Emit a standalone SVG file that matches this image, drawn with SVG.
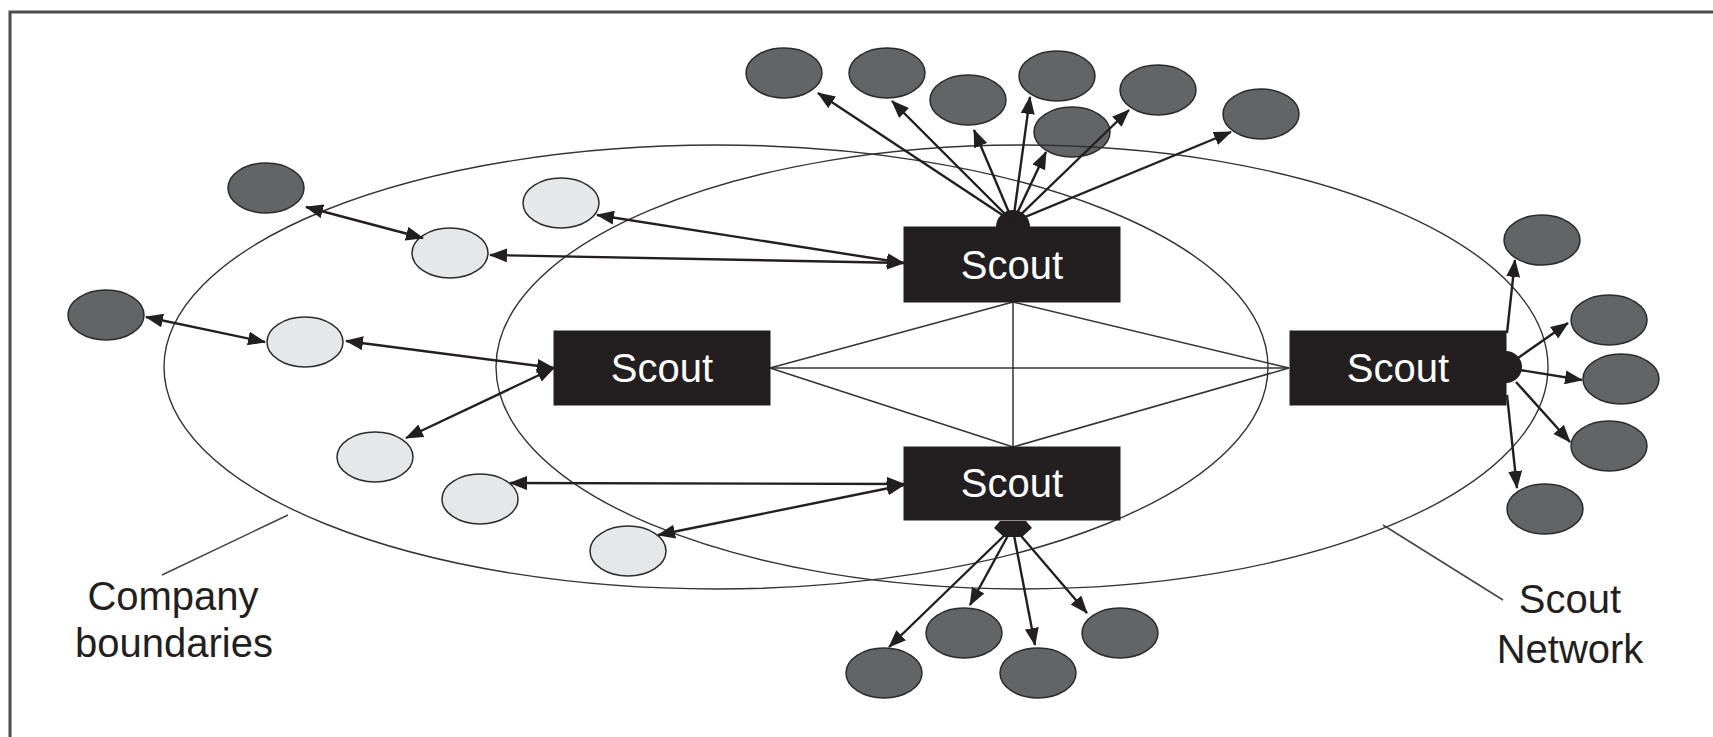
<svg xmlns="http://www.w3.org/2000/svg" width="1713" height="737" viewBox="0 0 1713 737">
<style>
.dark{fill:#636466;stroke:#2b2b2b;stroke-width:1.5}
.light{fill:#e6e7e8;stroke:#2b2b2b;stroke-width:1.5}
.box{fill:#231f20;stroke:#231f20;stroke-width:1}
.bt{font-family:"Liberation Sans",Arial,sans-serif;font-size:40px;fill:#ffffff;text-anchor:middle}
.lbl{font-family:"Liberation Sans",Arial,sans-serif;font-size:40px;fill:#231f20;text-anchor:middle}
.bound{fill:none;stroke:#333;stroke-width:1.4}
.arr{stroke:#231f20;stroke-width:2.4;fill:none;marker-end:url(#ah)}
.bi{marker-start:url(#ah)}
.thin{stroke:#333;stroke-width:1.5;fill:none}
.ptr{stroke:#444;stroke-width:1.5;fill:none}
</style>
<defs>
<marker id="ah" markerUnits="userSpaceOnUse" markerWidth="18" markerHeight="14" refX="17" refY="7" orient="auto-start-reverse">
<path d="M0,0 L18,7 L0,14 z" fill="#231f20"/>
</marker>
</defs>
<rect width="1713" height="737" fill="#ffffff"/>
<path d="M10,737 V12 H1713" fill="none" stroke="#4d4d4d" stroke-width="3"/>

<g id="outer-nodes">
<g id="t1"><ellipse class="dark" cx="784" cy="73" rx="38" ry="25"/></g>
<g id="t2"><ellipse class="dark" cx="887" cy="73" rx="38" ry="25"/></g>
<g id="t3"><ellipse class="dark" cx="968" cy="100" rx="38" ry="25"/></g>
<g id="t4"><ellipse class="dark" cx="1057" cy="76" rx="38" ry="25"/></g>
<g id="t5"><ellipse class="dark" cx="1158" cy="90" rx="38" ry="25"/></g>
<g id="t6"><ellipse class="dark" cx="1261" cy="114" rx="38" ry="25"/></g>
<g id="t7"><ellipse class="dark" cx="1072" cy="132" rx="38" ry="25"/></g>
<g id="d1"><ellipse class="dark" cx="266" cy="188" rx="38" ry="25"/></g>
<g id="d2"><ellipse class="dark" cx="106" cy="315" rx="38" ry="25"/></g>
<g id="l1"><ellipse class="light" cx="561" cy="203" rx="38" ry="25"/></g>
<g id="l2"><ellipse class="light" cx="450" cy="253" rx="38" ry="25"/></g>
<g id="l3"><ellipse class="light" cx="305" cy="342" rx="38" ry="25"/></g>
<g id="l4"><ellipse class="light" cx="375" cy="457" rx="38" ry="25"/></g>
<g id="l5"><ellipse class="light" cx="480" cy="499" rx="38" ry="25"/></g>
<g id="l6"><ellipse class="light" cx="628" cy="551" rx="38" ry="25"/></g>
<g id="r1"><ellipse class="dark" cx="1542" cy="240" rx="38" ry="25"/></g>
<g id="r2"><ellipse class="dark" cx="1609" cy="320" rx="38" ry="25"/></g>
<g id="r3"><ellipse class="dark" cx="1621" cy="379" rx="38" ry="25"/></g>
<g id="r4"><ellipse class="dark" cx="1609" cy="446" rx="38" ry="25"/></g>
<g id="r5"><ellipse class="dark" cx="1545" cy="509" rx="38" ry="25"/></g>
<g id="b1"><ellipse class="dark" cx="884" cy="673" rx="38" ry="25"/></g>
<g id="b2"><ellipse class="dark" cx="964" cy="633" rx="38" ry="25"/></g>
<g id="b3"><ellipse class="dark" cx="1038" cy="673" rx="38" ry="25"/></g>
<g id="b4"><ellipse class="dark" cx="1120" cy="633" rx="38" ry="25"/></g>
</g>

<g id="company-boundaries">
<ellipse class="bound" cx="716" cy="367" rx="552" ry="222"/>
<line class="ptr" x1="288" y1="515" x2="162" y2="575"/>
<text class="lbl" x="173" y="610">Company</text>
<text class="lbl" x="174" y="657">boundaries</text>
</g>
<g id="scout-network">
<ellipse class="bound" cx="1022" cy="367" rx="526" ry="222"/>
<line class="ptr" x1="1383" y1="525" x2="1503" y2="600"/>
<text class="lbl" x="1570" y="613">Scout</text>
<text class="lbl" x="1570" y="663">Network</text>
</g>

<g id="connectors">
<line class="thin" x1="1013" y1="302" x2="1013" y2="447"/>
<line class="thin" x1="770" y1="368" x2="1013" y2="302"/>
<line class="thin" x1="770" y1="368" x2="1013" y2="447"/>
<line class="thin" x1="770" y1="368" x2="1289" y2="368"/>
<line class="thin" x1="1013" y1="302" x2="1289" y2="368"/>
<line class="thin" x1="1013" y1="447" x2="1289" y2="368"/>
<circle cx="1013" cy="227" r="17" fill="#231f20"/>
<line class="arr" x1="1013" y1="222" x2="818" y2="93"/>
<line class="arr" x1="1013" y1="222" x2="892" y2="101"/>
<line class="arr" x1="1013" y1="222" x2="974" y2="130"/>
<line class="arr" x1="1013" y1="222" x2="1030" y2="97"/>
<line class="arr" x1="1013" y1="222" x2="1129" y2="110"/>
<line class="arr" x1="1013" y1="222" x2="1231" y2="132"/>
<line class="arr" x1="1013" y1="222" x2="1046" y2="152"/>
<line class="arr bi" x1="306" y1="207" x2="423" y2="238"/>
<line class="arr bi" x1="146" y1="317" x2="265" y2="342"/>
<line class="arr bi" x1="346" y1="341" x2="554" y2="368"/>
<line class="arr bi" x1="406" y1="438" x2="554" y2="368"/>
<line class="arr bi" x1="597" y1="215" x2="904" y2="263"/>
<line class="arr bi" x1="490" y1="255" x2="904" y2="263"/>
<line class="arr bi" x1="510" y1="483" x2="904" y2="484"/>
<line class="arr bi" x1="658" y1="535" x2="904" y2="485"/>
<circle cx="1506" cy="367" r="16" fill="#231f20"/>
<line class="arr" x1="1507" y1="333" x2="1515" y2="260"/>
<line class="arr" x1="1518" y1="358" x2="1568" y2="323"/>
<line class="arr" x1="1520" y1="370" x2="1582" y2="380"/>
<line class="arr" x1="1516" y1="382" x2="1570" y2="442"/>
<line class="arr" x1="1507" y1="395" x2="1517" y2="488"/>
<polygon points="1000,521 1026,521 1032,528 1022,537 1004,537 994,528" fill="#231f20"/>
<line class="arr" x1="1010" y1="530" x2="889" y2="647"/>
<line class="arr" x1="1011" y1="530" x2="970" y2="605"/>
<line class="arr" x1="1013" y1="530" x2="1035" y2="645"/>
<line class="arr" x1="1016" y1="530" x2="1087" y2="613"/>
</g>

<g id="scout-top"><rect class="box" x="904" y="227" width="216" height="75"/><text class="bt" x="1012" y="279">Scout</text></g>
<g id="scout-left"><rect class="box" x="554" y="331" width="216" height="74"/><text class="bt" x="662" y="382">Scout</text></g>
<g id="scout-right"><rect class="box" x="1290" y="331" width="216" height="74"/><text class="bt" x="1398" y="382">Scout</text></g>
<g id="scout-bottom"><rect class="box" x="904" y="447" width="216" height="73"/><text class="bt" x="1012" y="497">Scout</text></g>
</svg>
